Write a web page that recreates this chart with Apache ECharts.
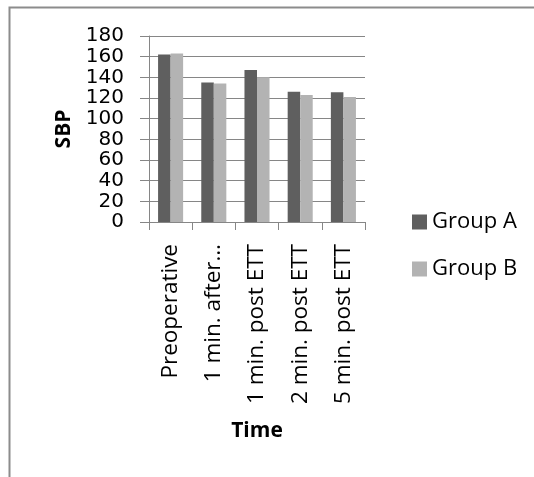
<!DOCTYPE html>
<html><head><meta charset="utf-8">
<script src="https://cdn.jsdelivr.net/npm/echarts@6/dist/echarts.min.js"></script>
<style>html,body{margin:0;padding:0;background:#fff}#c{width:534px;height:477px}</style>
</head><body><div id="c"></div>
<script>
const categories = ['Preoperative', '1 min. after…', '1 min. post ETT', '2 min. post ETT', '5 min. post ETT'];
const groupA = [162, 135, 147, 126, 125.5];
const groupB = [163, 134, 140, 123, 121];
const seriesNames = ['Group A', 'Group B'];
const yTicks = {min: 0, max: 180, interval: 20};

const font = 'Open Sans, Noto Sans, sans-serif';
const chart = echarts.init(document.getElementById('c'), null, {renderer: 'canvas'});
chart.setOption({
  animation: false,
  backgroundColor: '#fff',
  graphic: [{
    type: 'rect', shape: {x: 9.5, y: 7.5, width: 700, height: 700},
    style: {fill: 'none', stroke: '#8c8c8c', lineWidth: 2}, silent: true
  }],
  grid: {left: 149, right: 169, top: 36, bottom: 255, containLabel: false},
  legend: {
    orient: 'vertical', left: 407, top: 206, itemWidth: 15, itemHeight: 15, itemGap: 25,
    icon: 'rect',
    textStyle: {fontFamily: font, fontSize: 22, color: '#000'},
    data: seriesNames
  },
  xAxis: {
    type: 'category', data: categories,
    name: 'Time', nameLocation: 'middle', nameGap: 199,
    nameTextStyle: {fontFamily: font, fontSize: 21, fontWeight: 'bold', color: '#000'},
    axisLine: {lineStyle: {color: '#868686', width: 1}},
    axisTick: {show: true, length: 8, lineStyle: {color: '#868686'}},
    axisLabel: {rotate: 90, fontFamily: font, fontSize: 22.5, color: '#000', margin: 22, hideOverlap: false}
  },
  yAxis: {
    type: 'value', min: yTicks.min, max: yTicks.max, interval: yTicks.interval,
    name: 'SBP', nameLocation: 'middle', nameGap: 74, nameRotate: 90,
    nameTextStyle: {fontFamily: font, fontSize: 21, fontWeight: 'bold', color: '#000'},
    axisLine: {show: true, lineStyle: {color: '#868686', width: 1}},
    axisTick: {show: true, length: 9, lineStyle: {color: '#868686'}},
    splitLine: {show: true, lineStyle: {color: '#868686', width: 1}},
    axisLabel: {fontFamily: 'DejaVu Sans, sans-serif', fontSize: 20, color: '#000', margin: 25,
      hideOverlap: false}
  },
  series: [
    {name: seriesNames[0], type: 'bar', data: groupA, barGap: '0%', barCategoryGap: '42%', itemStyle: {color: '#5f5f5f'}},
    {name: seriesNames[1], type: 'bar', data: groupB, barGap: '0%', barCategoryGap: '42%', itemStyle: {color: '#b3b3b3'}}
  ]
});
</script></body></html>
